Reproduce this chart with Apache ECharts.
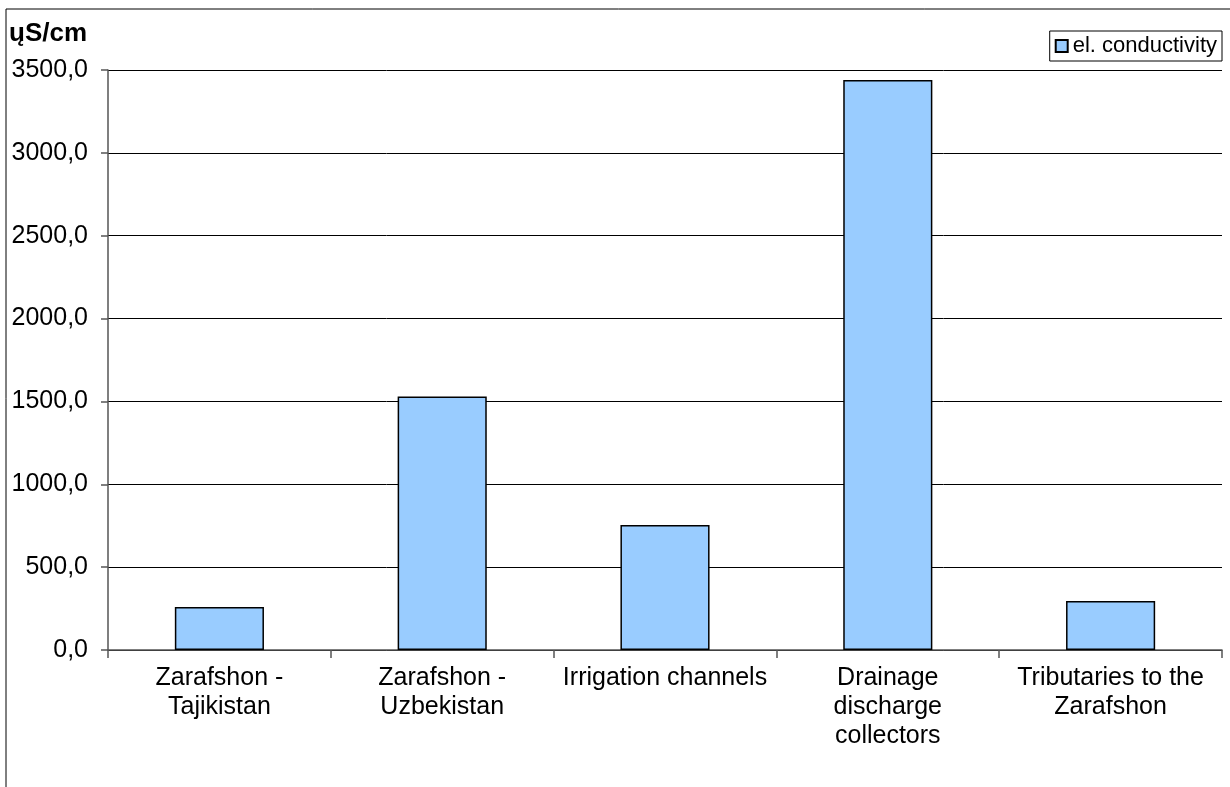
<!DOCTYPE html>
<html>
<head>
<meta charset="utf-8">
<script src="https://cdn.jsdelivr.net/npm/echarts@6/dist/echarts.min.js"></script>
<style>
html,body{margin:0;padding:0;background:#fff;}
#chart{width:1230px;height:787px;}
</style>
</head>
<body>
<div id="chart"></div>
<script>
var categories = ['Zarafshon -\nTajikistan', 'Zarafshon -\nUzbekistan', 'Irrigation channels', 'Drainage\ndischarge\ncollectors', 'Tributaries to the\nZarafshon'];
var conductivity = [260, 1530, 755, 3440, 295];
var seriesName = 'el. conductivity';
var unitLabel = 'ųS/cm';

var font = "'Liberation Sans', Arial, sans-serif";
var myChart = echarts.init(document.getElementById('chart'));
var option = {
	backgroundColor: '#fff',
	animation: false,
	title: {
		text: unitLabel,
		left: 9,
		top: 21,
		padding: 0,
		textStyle: {fontFamily: font, fontSize: 26, fontWeight: 'bold', color: '#000'}
	},
	legend: {
		data: [{name: seriesName, icon: 'rect'}],
		right: 8,
		top: 31,
		padding: [4, 5, 4, 5],
		itemWidth: 12,
		itemHeight: 12,
		itemGap: 5,
		borderColor: '#000',
		borderWidth: 1,
		textStyle: {fontFamily: font, fontSize: 22, color: '#000'}
	},
	grid: {left: 108, right: 8, top: 70, bottom: 137},
	xAxis: {
		type: 'category',
		data: categories,
		axisLine: {lineStyle: {color: '#555', width: 1.5}},
		axisTick: {show: true, length: 8, lineStyle: {color: '#555', width: 1.5}},
		axisLabel: {
			interval: 0,
			margin: 14,
			fontFamily: font,
			fontSize: 25,
			lineHeight: 29,
			color: '#000'
		}
	},
	yAxis: {
		type: 'value',
		min: 0,
		max: 3500,
		interval: 500,
		axisLine: {show: true, lineStyle: {color: '#555', width: 1.5}},
		axisTick: {show: true, length: 7, lineStyle: {color: '#555', width: 1.5}},
		splitLine: {lineStyle: {color: '#000', width: 1}},
		axisLabel: {
			margin: 20,
			fontFamily: font,
			fontSize: 25,
			color: '#000',
			formatter: function(v){ return v.toFixed(1).replace('.', ','); }
		}
	},
	series: [{
		name: seriesName,
		type: 'bar',
		data: conductivity,
		barWidth: '40%',
		itemStyle: {color: '#99CCFF', borderColor: '#000', borderWidth: 1.5}
	}],
	graphic: [{
		type: 'rect',
		shape: {x: 6, y: 9, width: 1300, height: 900},
		style: {fill: 'none', stroke: '#000', lineWidth: 1},
		silent: true
	}]
};
myChart.setOption(option);
</script>
</body>
</html>
